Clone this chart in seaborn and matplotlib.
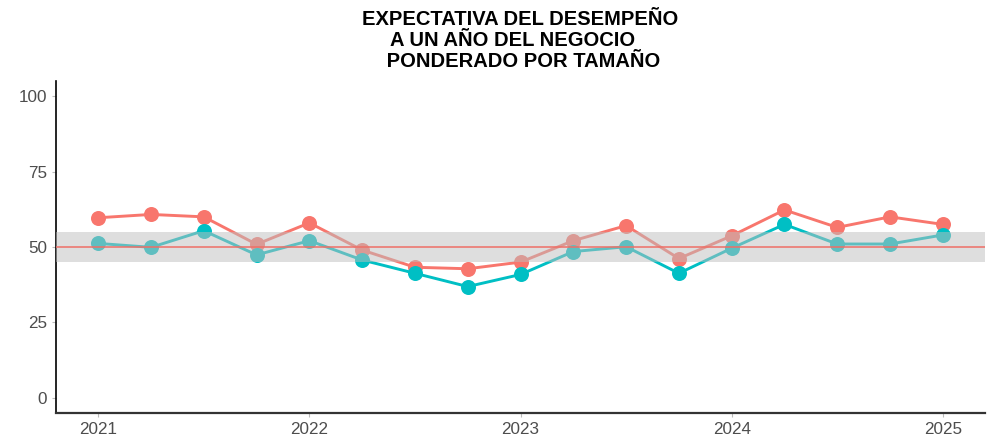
import matplotlib
matplotlib.use("Agg")
import matplotlib.pyplot as plt
import seaborn as sns
import pandas as pd

# Quarterly periods 2021Q1 .. 2025Q1 (as decimal years)
periods = [2021.00, 2021.25, 2021.50, 2021.75,
           2022.00, 2022.25, 2022.50, 2022.75,
           2023.00, 2023.25, 2023.50, 2023.75,
           2024.00, 2024.25, 2024.50, 2024.75,
           2025.00]
serie_roja = [59.7, 60.8, 60.0, 50.9, 58.0, 49.0, 43.3, 42.8, 45.0,
              52.1, 57.1, 46.2, 53.7, 62.3, 56.5, 60.0, 57.5]
serie_turquesa = [51.2, 49.9, 55.4, 47.4, 52.1, 45.7, 41.3, 36.9, 40.9,
                  48.5, 50.1, 41.3, 49.6, 57.5, 51.0, 51.0, 54.0]
year_ticks = [2021, 2022, 2023, 2024, 2025]
y_ticks = [0, 25, 50, 75, 100]
band_low, band_high, ref_line = 45, 55, 50

df = pd.DataFrame({
    "periodo": periods * 2,
    "valor": serie_roja + serie_turquesa,
    "serie": ["A"] * len(periods) + ["B"] * len(periods),
})

sns.set_theme(style="white")
plt.rcParams["font.family"] = ["Liberation Sans", "DejaVu Sans"]

fig = plt.figure(figsize=(9.89, 4.38), dpi=100)
ax = fig.add_axes([0.0566, 0.057, 0.9394, 0.758])

sns.lineplot(data=df, x="periodo", y="valor", hue="serie",
             hue_order=["A", "B"], palette=["#F8766D", "#00BFC4"],
             marker="o", markersize=10.8, markeredgewidth=0,
             linewidth=2.1, legend=False, ax=ax, zorder=2)

ax.axhspan(band_low, band_high, color="#BEBEBE", alpha=0.5, lw=0, zorder=3)
ax.axhline(ref_line, color="#EE6F67", lw=1.1, zorder=4)

ax.set_xlim(2020.8, 2025.2)
ax.set_ylim(-5, 105)
ax.set_xticks(year_ticks)
ax.set_xticklabels([str(y) for y in year_ticks])
ax.set_yticks(y_ticks)
ax.set_xlabel("")
ax.set_ylabel("")
ax.tick_params(axis="both", colors="#BBBBBB", labelcolor="#4D4D4D",
               labelsize=12.3, length=3, width=0.8, left=True, bottom=True)

for s in ["top", "right"]:
    ax.spines[s].set_visible(False)
ax.spines["left"].set_color("black")
ax.spines["left"].set_linewidth(1.2)
ax.spines["bottom"].set_color("#333333")
ax.spines["bottom"].set_linewidth(1.6)

ax.set_title("EXPECTATIVA DEL DESEMPEÑO\nA UN AÑO DEL NEGOCIO   \n PONDERADO POR TAMAÑO",
             fontsize=14.5, fontweight="bold", color="black",
             linespacing=1.15, pad=10)

fig.savefig("out.png", dpi=100)
